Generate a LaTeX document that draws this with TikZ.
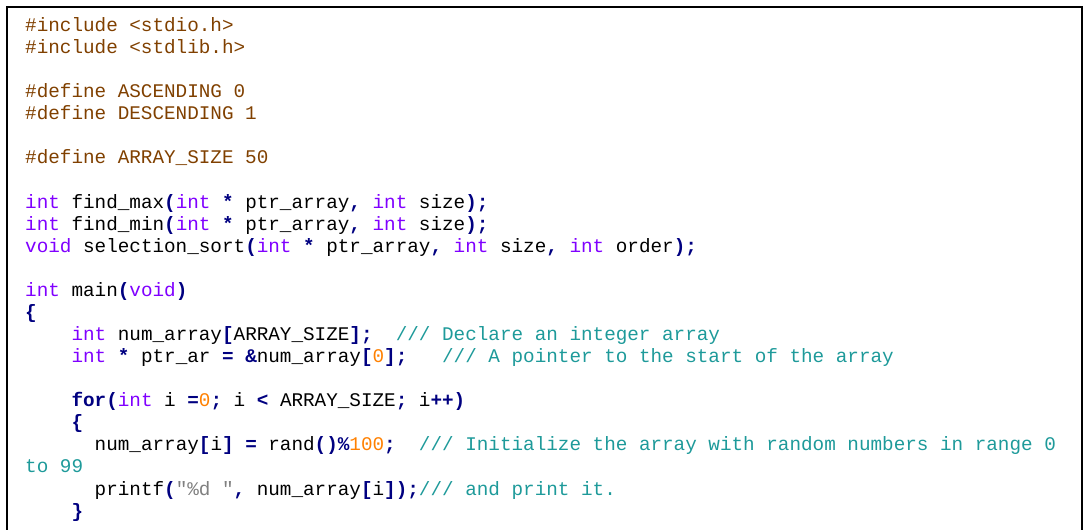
\documentclass[tikz,border=0pt]{standalone}
\usepackage{fontspec}
\newfontfamily\codefont{Liberation Mono}
\definecolor{pp}{HTML}{804000}
\definecolor{kw}{HTML}{8000FF}
\definecolor{op}{HTML}{000080}
\definecolor{nm}{HTML}{FF8000}
\definecolor{cm}{HTML}{1E9A9A}
\definecolor{st}{HTML}{808080}
\newcommand\cK[1]{\textcolor{kw}{#1}}
\newcommand\cO[1]{\textcolor{op}{\bfseries #1}}
\newcommand\cN[1]{\textcolor{nm}{#1}}
\newcommand\cC[1]{\textcolor{cm}{#1}}
\newcommand\cP[1]{\textcolor{pp}{#1}}
\newcommand\cS[1]{\textcolor{st}{#1}}
\tikzset{ln/.style={anchor=base west,inner sep=0pt,font=\codefont\fontsize{19.3}{22}\selectfont}}
\begin{document}
\begin{tikzpicture}[x=1pt,y=-1pt]
\useasboundingbox (0,0) rectangle (1088,530);
\draw[line width=1.5pt] (7,531) -- (7,7) -- (1082,7) -- (1082,531);
\def\cL#1#2#3{\node[ln] (l#1) at (25,#2+6) {#3};}
\cL{1}{25}{\cP{\#include <stdio.h>}}
\cL{2}{47}{\cP{\#include <stdlib.h>}}
\cL{4}{91}{\cP{\#define ASCENDING 0}}
\cL{5}{113}{\cP{\#define DESCENDING 1}}
\cL{7}{157}{\cP{\#define ARRAY\_SIZE 50}}
\cL{9}{202}{\cK{int} find\_max\cO{(}\cK{int} \cO{*} ptr\_array\cO{,} \cK{int} size\cO{);}}
\cL{10}{224}{\cK{int} find\_min\cO{(}\cK{int} \cO{*} ptr\_array\cO{,} \cK{int} size\cO{);}}
\cL{11}{246}{\cK{void} selection\_sort\cO{(}\cK{int} \cO{*} ptr\_array\cO{,} \cK{int} size\cO{,} \cK{int} order\cO{);}}
\cL{13}{290}{\cK{int} main\cO{(}\cK{void}\cO{)}}
\cL{14}{312}{\cO{\{}}
\cL{15}{334}{\ \ \ \ \cK{int} num\_array\cO{[}ARRAY\_SIZE\cO{];}\ \ \cC{/// Declare an integer array}}
\cL{16}{356}{\ \ \ \ \cK{int} \cO{*} ptr\_ar \cO{=} \cO{\&}num\_array\cO{[}\cN{0}\cO{];}\ \ \ \cC{/// A pointer to the start of the array}}
\cL{18}{400}{\ \ \ \ \cO{for(}\cK{int} i \cO{=}\cN{0}\cO{;} i \cO{<} ARRAY\_SIZE\cO{;} i\cO{++)}}
\cL{19}{422}{\ \ \ \ \cO{\{}}
\cL{20}{444}{\ \ \ \ \ \ num\_array\cO{[}i\cO{]} \cO{=} rand\cO{()\%}\cN{100}\cO{;}\ \ \cC{/// Initialize the array with random numbers in range 0}}
\cL{21}{466}{\cC{to 99}}
\cL{22}{489}{\ \ \ \ \ \ printf\cO{(}\cS{"\%d "}\cO{,} num\_array\cO{[}i\cO{]);}\cC{/// and print it.}}
\cL{23}{511}{\ \ \ \ \cO{\}}}
\end{tikzpicture}
\end{document}
